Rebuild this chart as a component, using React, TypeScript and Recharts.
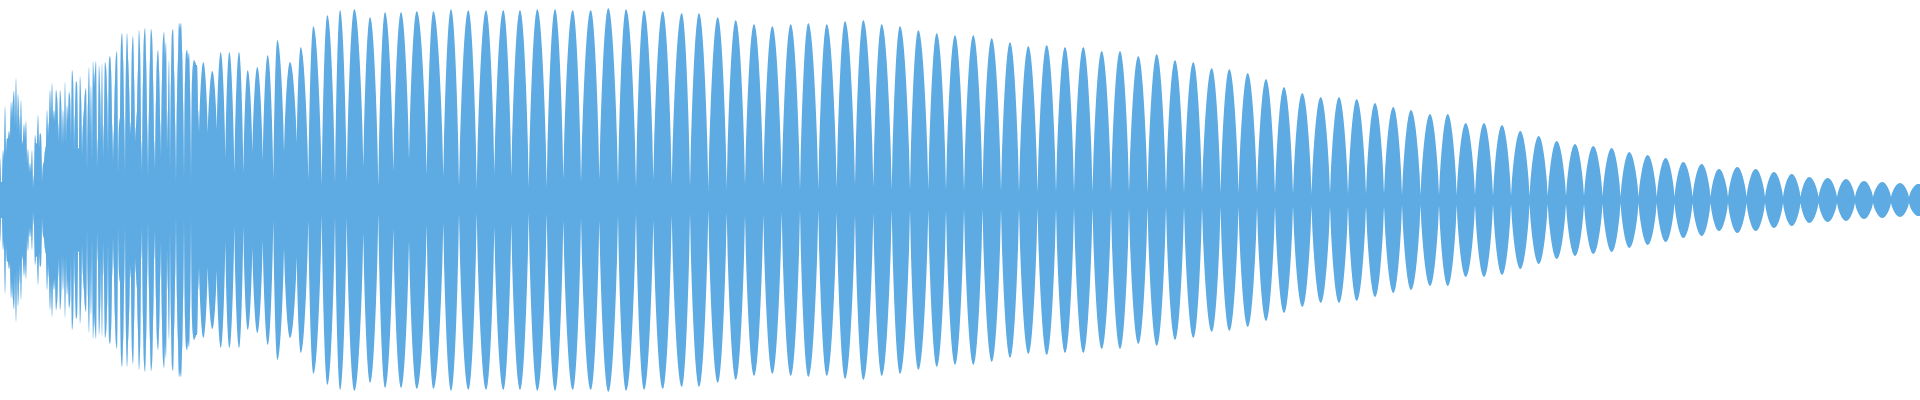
import React from 'react';
import { AreaChart, Area, XAxis, YAxis } from 'recharts';

// Amplitude (px above/below the centre) of each column at the chaotic start, x = 0..199
const denseAmp = [
  42, 18, 18, 50, 40, 94, 45, 62, 61, 69, 62, 98, 81, 100, 109, 72, 122, 67, 106, 84,
  63, 100, 54, 60, 76, 59, 79, 36, 51, 27, 37, 27, 50, 11, 25, 65, 56, 57, 85, 51,
  67, 65, 17, 35, 38, 49, 54, 90, 63, 78, 110, 79, 117, 79, 90, 77, 110, 103, 77, 57,
  110, 100, 53, 90, 55, 118, 55, 95, 77, 108, 103, 57, 130, 121, 48, 86, 119, 116, 52, 51,
  124, 103, 42, 75, 90, 107, 112, 27, 97, 133, 61, 115, 34, 139, 113, 128, 139, 30, 62, 135,
  112, 55, 137, 39, 76, 138, 133, 108, 40, 140, 144, 130, 77, 37, 70, 118, 144, 149, 24, 74,
  82, 157, 167, 142, 85, 23, 134, 167, 141, 114, 64, 78, 152, 164, 123, 57, 73, 88, 130, 170,
  150, 60, 25, 120, 163, 172, 140, 80, 18, 90, 140, 171, 164, 120, 60, 27, 100, 140, 150, 130,
  80, 40, 120, 160, 168, 140, 158, 47, 90, 140, 27, 120, 167, 171, 130, 80, 15, 100, 140, 177,
  170, 177, 150, 100, 17, 120, 147, 150, 140, 147, 110, 15, 120, 135, 140, 138, 135, 135, 90, 67,
];

// Lobe crests: position and amplitude
const peakX = [
  203.3, 212.3, 220.7, 229.3, 239, 247.7, 257.3, 267.7, 277.3, 290, 300.7, 313.3, 327.3, 340, 354.3, 370, 385, 401, 416.7,
  433.3, 451, 468.3, 486, 503.3, 520, 537.3, 555, 572.7, 590.7, 608.3, 626, 644, 662.7,
  681.7, 699, 717.7, 735.7, 754, 772.3, 790.7, 808.3, 826.7, 845, 863.3, 881.7, 900, 918.3, 936.7,
  955, 973.3, 991.7, 1010, 1028.3, 1046.7, 1065, 1083.3, 1101.7, 1120, 1138.3, 1156.7, 1175, 1193.3,
  1211.7, 1229.3, 1247.7, 1266, 1284, 1302.3, 1320.7, 1339, 1356.7, 1375, 1393.3, 1411, 1430, 1447.7,
  1465.7, 1484, 1502, 1520.3, 1538.7, 1556.7, 1575, 1593.3, 1611.7, 1629.3, 1647.7, 1665.7, 1683.3, 1701.7,
  1719, 1737.3, 1755.7, 1774, 1791.7, 1809.3, 1827.7, 1846, 1864, 1882.3, 1900, 1918.3,
];
const peakAmp = [
  138, 129, 148, 148, 148, 130, 133, 145, 160, 138, 153, 174, 185, 190, 191, 183, 188, 188, 189,
  189, 191, 190, 190, 190, 190, 191, 191, 190, 190, 192, 191, 190, 189,
  187, 187, 183, 180, 176, 174, 176, 177, 176, 179, 180, 176, 174, 170, 167,
  165, 165, 162, 158, 154, 155, 153, 153, 149, 149, 144, 146, 140, 138,
  132, 131, 127, 121, 113, 107, 103, 103, 101, 97, 93, 90, 86, 86,
  77, 77, 75, 69, 64, 59, 56, 54, 52, 48, 45, 42, 38, 36,
  31, 33, 31, 28, 26, 23, 22, 21, 19, 18, 17, 16,
];

// Necks between lobes: position and half-thickness of the central band
const valleyX = [
  207.7, 216.7, 225.3, 234.3, 243.3, 252.3, 262.7, 273.3, 284, 296.7, 308.3, 321.7, 335, 346.7, 363.3, 378.3, 393.3, 409, 426.7,
  443.3, 459, 476.7, 494.3, 511.3, 528.7, 546.7, 563.3, 581, 599.3, 618, 636, 653.3, 671.7,
  690, 708.3, 726.7, 745, 763.3, 781.7, 800, 818.3, 836.7, 855, 873.3, 891.7, 910, 928.3, 946,
  964, 982.5, 1001, 1019, 1037.5, 1056, 1074, 1092.5, 1111, 1129, 1147.5, 1166, 1184, 1202,
  1220.5, 1238.5, 1257, 1275, 1293, 1311.5, 1330, 1348, 1366, 1384, 1402, 1420.5, 1439, 1456.7,
  1475, 1493, 1511, 1529.5, 1547.7, 1566, 1584, 1602.5, 1620.5, 1638.5, 1656.7, 1674.5, 1692.5, 1710.5,
  1728, 1746.5, 1765, 1783, 1800.5, 1818.5, 1837, 1855, 1873, 1891, 1909,
];
const valleyAmp = [
  67, 70, 42, 27, 27, 48, 40, 20, 48, 57, 20, 15, 17, 18, 33, 13, 28, 40, 25,
  23, 13, 13, 27, 23, 13, 13, 20, 18, 20, 15, 13, 20, 15,
  13, 10, 12, 15, 15, 12, 10, 10, 12, 15, 13, 10, 10, 10, 10,
  9, 9, 9, 8, 8, 8, 8, 8, 8, 8, 7, 7, 7, 7,
  7, 7, 7, 6, 6, 6, 6, 6, 6, 6, 5, 5, 5, 5,
  5, 4, 4, 4, 4, 4, 4, 4, 3, 3, 3, 3, 3, 3,
  3, 3, 3, 3, 3, 3, 3, 3, 3, 3, 3,
];
const endX = 1920;
const endAmp = 16;

const points = [
  ...denseAmp.map((a, i) => ({ x: i, amp: a })),
  ...peakX.map((x, i) => ({ x, amp: peakAmp[i] })),
  ...valleyX.map((x, i) => ({ x, amp: valleyAmp[i] })),
  { x: endX, amp: endAmp },
].sort((a, b) => a.x - b.x);

const data = points.map((p) => ({ x: p.x, range: [-p.amp, p.amp] }));

// Curve: round at the outer crest, pointed at the inner neck (fattened quarter-sine between points)
const STEPS = 10;
const FATTEN = 0.75;
function lobeCurve(context: any) {
  let line = NaN;
  let pt = 0;
  let px = 0;
  let py = 0;
  return {
    areaStart() { line = 0; },
    areaEnd() { line = NaN; },
    lineStart() { pt = 0; },
    lineEnd() {
      if (line || (line !== 0 && pt === 1)) context.closePath();
      line = 1 - line;
    },
    point(xIn: number, yIn: number) {
      const x = +xIn;
      const y = +yIn;
      if (pt === 0) {
        pt = 1;
        if (line) context.lineTo(x, y);
        else context.moveTo(x, y);
      } else {
        const outerIsSmaller = line !== 1;
        const startOuter = outerIsSmaller ? py <= y : py >= y;
        const P = startOuter ? py : y;
        const V = startOuter ? y : py;
        for (let k = 1; k <= STEPS; k++) {
          const u = k / STEPS;
          const base = startOuter ? Math.cos((u * Math.PI) / 2) : Math.sin((u * Math.PI) / 2);
          const f = Math.pow(Math.max(0, base), FATTEN);
          context.lineTo(px + (x - px) * u, V + (P - V) * f);
        }
      }
      px = x;
      py = y;
    },
  };
}

export default function App() {
  return (
    <div style={{ position: 'absolute', left: 0, top: 0, width: 1920, height: 400, background: '#fff' }}>
      <AreaChart width={1920} height={400} data={data} margin={{ top: 0, right: 0, bottom: 0, left: 0 }}>
        <XAxis dataKey="x" type="number" domain={[0, 1920]} hide allowDataOverflow />
        <YAxis type="number" domain={[-200, 200]} hide allowDataOverflow />
        <Area
          dataKey="range"
          type={lobeCurve as any}
          stroke="none"
          fill="#5dabe2"
          fillOpacity={1}
          isAnimationActive={false}
          dot={false}
          activeDot={false}
        />
      </AreaChart>
    </div>
  );
}
